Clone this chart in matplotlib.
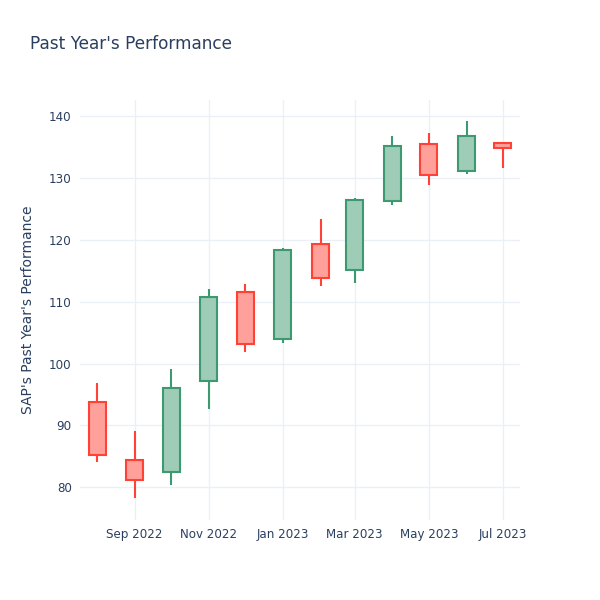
import pandas as pd
import matplotlib
matplotlib.use("Agg")
import matplotlib.pyplot as plt
import matplotlib.dates as mdates
from matplotlib.patches import Rectangle

# monthly candles for SAP
dates = pd.date_range("2022-08-01", periods=12, freq="MS")
opens = [93.7, 84.4, 82.4, 97.1, 111.5, 103.9, 119.3, 115.1, 126.3, 135.5, 131.1, 135.6]
closes = [85.2, 81.1, 96.0, 110.7, 103.1, 118.3, 113.8, 126.4, 135.1, 130.5, 136.8, 134.8]
highs = [96.8, 89.1, 99.1, 112.0, 112.8, 118.7, 123.3, 126.7, 136.8, 137.3, 139.2, 135.8]
lows = [84.0, 78.2, 80.3, 92.6, 101.8, 103.3, 112.5, 113.0, 125.6, 128.8, 130.6, 131.6]

tick_dates = pd.to_datetime(["2022-09-01", "2022-11-01", "2023-01-01",
                             "2023-03-01", "2023-05-01", "2023-07-01"])
tick_labels = ["Sep 2022", "Nov 2022", "Jan 2023", "Mar 2023", "May 2023", "Jul 2023"]

text_col = "#2a3f5f"
grid_col = "#ebf0f8"
inc_line, inc_fill = "#3d9970", "#9eccb7"
dec_line, dec_fill = "#ff4136", "#ffa09a"

fig = plt.figure(figsize=(6, 6), dpi=100)
ax = fig.add_axes([80 / 600, 80 / 600, 440 / 600, 420 / 600])

width = 14  # days
x = mdates.date2num(dates)
for xi, o, c, h, l in zip(x, opens, closes, highs, lows):
    if c >= o:
        lc, fc = inc_line, inc_fill
    else:
        lc, fc = dec_line, dec_fill
    ax.vlines(xi, l, h, color=lc, lw=1.5, zorder=2)
    ax.add_patch(Rectangle((xi - width / 2, min(o, c)), width, abs(c - o),
                           facecolor=fc, edgecolor=lc, lw=1.5, zorder=3))

ax.set_xlim(mdates.date2num(pd.Timestamp("2022-07-18")),
            mdates.date2num(pd.Timestamp("2023-07-15")))
ax.set_ylim(74.7, 142.6)
ax.set_yticks(range(80, 141, 10))
ax.set_xticks(mdates.date2num(tick_dates))
ax.set_xticklabels(tick_labels)

ax.grid(True, color=grid_col, lw=1)
ax.set_axisbelow(True)
for s in ax.spines.values():
    s.set_visible(False)
ax.tick_params(length=0, labelsize=8.6, colors=text_col, pad=6)

fig.text(30 / 600, 1 - 44 / 600, "Past Year's Performance", fontsize=12.2,
         color=text_col, va="center", ha="left")
fig.text(28 / 600, 1 - 310 / 600, "SAP's Past Year's Performance", fontsize=10,
         color=text_col, va="center", ha="center", rotation=90)

fig.savefig("out.png", dpi=100)
